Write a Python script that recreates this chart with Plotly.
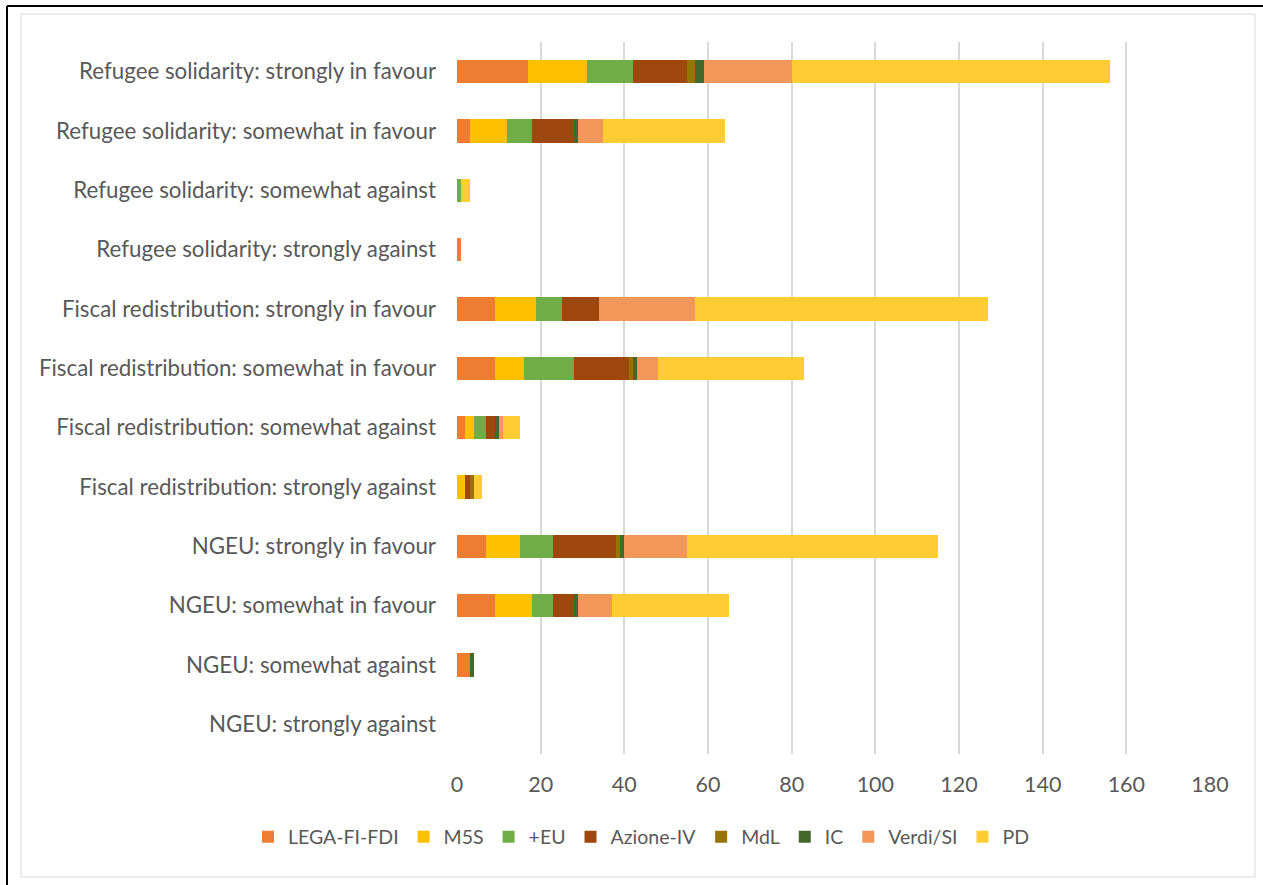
import plotly.graph_objects as go

# Survey items, listed top to bottom as they appear on the chart
categories = [
    "Refugee solidarity: strongly in favour",
    "Refugee solidarity: somewhat in favour",
    "Refugee solidarity: somewhat against",
    "Refugee solidarity: strongly against",
    "Fiscal redistribution: strongly in favour",
    "Fiscal redistribution: somewhat in favour",
    "Fiscal redistribution: somewhat against",
    "Fiscal redistribution: strongly against",
    "NGEU: strongly in favour",
    "NGEU: somewhat in favour",
    "NGEU: somewhat against",
    "NGEU: strongly against",
]

# Counts per party group, one value per category above
lega_fi_fdi = [17, 3, 0, 1, 9, 9, 2, 0, 7, 9, 3, 0]
m5s         = [14, 9, 0, 0, 10, 7, 2, 2, 8, 9, 0, 0]
piu_eu      = [11, 6, 1, 0, 6, 12, 3, 0, 8, 5, 0, 0]
azione_iv   = [13, 10, 0, 0, 9, 13, 2, 1, 15, 5, 0, 0]
mdl         = [2, 0, 0, 0, 0, 1, 0, 1, 1, 0, 0, 0]
ic          = [2, 1, 0, 0, 0, 1, 1, 0, 1, 1, 1, 0]
verdi_si    = [21, 6, 0, 0, 23, 5, 1, 0, 15, 8, 0, 0]
pd_         = [76, 29, 2, 0, 70, 35, 4, 2, 60, 28, 0, 0]

x_ticks = [0, 20, 40, 60, 80, 100, 120, 140, 160, 180]

series = [
    ("LEGA-FI-FDI", lega_fi_fdi, "#ED7D31"),
    ("M5S", m5s, "#FFC000"),
    ("+EU", piu_eu, "#70AD47"),
    ("Azione-IV", azione_iv, "#9E480E"),
    ("MdL", mdl, "#997300"),
    ("IC", ic, "#43682B"),
    ("Verdi/SI", verdi_si, "#F1975A"),
    ("PD", pd_, "#FFCD33"),
]

W, H = 1263, 885
ML, MR, MT, MB = 457, 53, 42, 131
PW, PH = W - ML - MR, H - MT - MB

fig = go.Figure()
for name, vals, color in series:
    fig.add_trace(go.Bar(
        name=name, y=categories, x=vals, orientation="h",
        marker=dict(color=color, line=dict(width=0)),
    ))

TXT = "#595959"
FONT = "Lato"


def px_x(p):
    return (p - ML) / PW


def px_y(p):
    return 1 - (p - MT) / PH


fig.update_layout(
    width=W, height=H,
    barmode="stack", bargap=0.61,
    margin=dict(l=ML, r=MR, t=MT, b=MB, autoexpand=False),
    paper_bgcolor="white", plot_bgcolor="white",
    font=dict(family=FONT, color=TXT, size=21),
    showlegend=True,
    legend=dict(
        orientation="h", xref="paper", yref="paper",
        x=px_x(248), y=px_y(837), xanchor="left", yanchor="middle",
        font=dict(size=19.5, color=TXT, family=FONT),
        itemwidth=30, traceorder="normal",
    ),
    xaxis=dict(
        range=[0, 180], tickvals=x_ticks, showgrid=True,
        gridcolor="#D9D9D9", gridwidth=1.5, zeroline=False,
        showline=False, ticks="", ticklabelstandoff=15,
        tickfont=dict(size=21.5, color=TXT, family=FONT),
    ),
    yaxis=dict(
        categoryorder="array", categoryarray=categories,
        autorange="reversed", showgrid=False, zeroline=False,
        showline=False, ticks="", ticklabelstandoff=20,
        tickfont=dict(size=22.3, color=TXT, family=FONT),
    ),
    shapes=[
        # light chart-area frame
        dict(type="rect", xref="paper", yref="paper",
             x0=px_x(21), x1=px_x(1255), y0=px_y(877), y1=px_y(14),
             line=dict(color="#D9D9D9", width=1), layer="below"),
        # dark outer frame
        dict(type="line", xref="paper", yref="paper",
             x0=px_x(7), x1=px_x(1263), y0=px_y(6), y1=px_y(6),
             line=dict(color="black", width=2)),
        dict(type="line", xref="paper", yref="paper",
             x0=px_x(7), x1=px_x(7), y0=px_y(6), y1=px_y(885),
             line=dict(color="black", width=2)),
    ],
)

fig.write_html("out.html")
